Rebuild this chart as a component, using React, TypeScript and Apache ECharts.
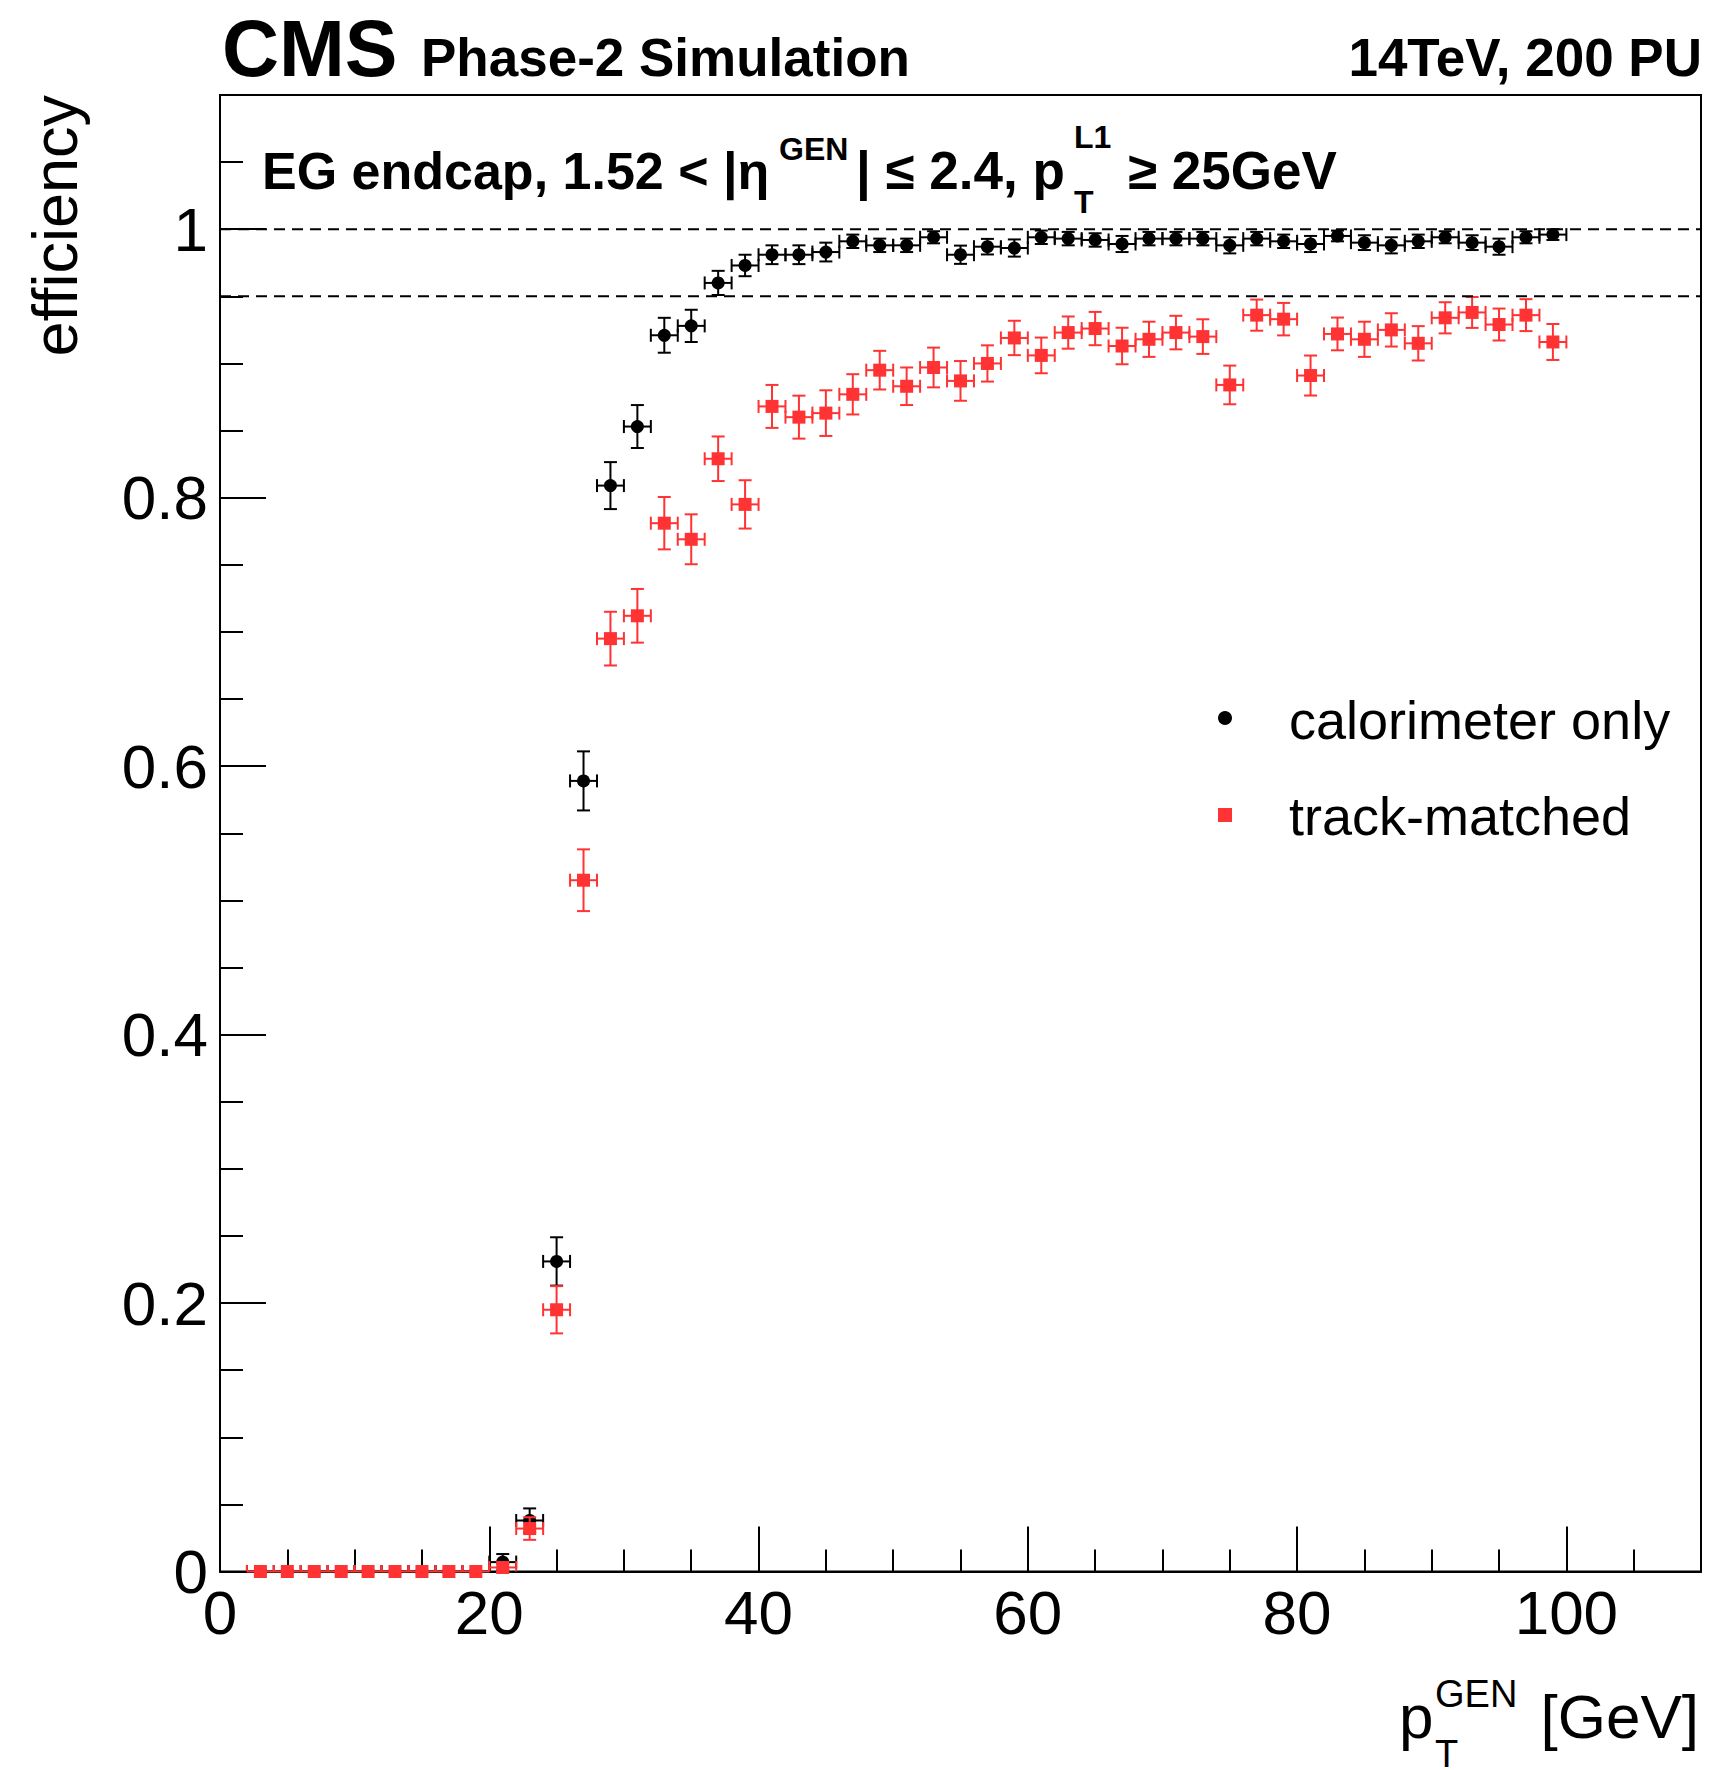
import React, { useEffect, useRef } from "react";
import * as echarts from "echarts";

// ---- data ----
const ptBins = [3, 5, 7, 9, 11, 13, 15, 17, 19, 21, 23, 25, 27, 29, 31, 33, 35, 37, 39, 41, 43, 45, 47, 49, 51, 53, 55, 57, 59, 61, 63, 65, 67, 69, 71, 73, 75, 77, 79, 81, 83, 85, 87, 89, 91, 93, 95, 97, 99];
const binHalfWidth = 1;

const caloEff = [0, 0, 0, 0, 0, 0, 0, 0, 0, 0.007, 0.038, 0.231, 0.589, 0.809, 0.853, 0.921, 0.928, 0.960, 0.973, 0.981, 0.981, 0.983, 0.991, 0.988, 0.988, 0.994, 0.981, 0.987, 0.986, 0.994, 0.993, 0.992, 0.989, 0.993, 0.993, 0.993, 0.988, 0.993, 0.991, 0.989, 0.995, 0.990, 0.988, 0.991, 0.994, 0.990, 0.987, 0.994, 0.996];
const caloErr = [0, 0, 0, 0, 0, 0, 0, 0, 0, 0.006, 0.009, 0.018, 0.022, 0.0175, 0.016, 0.013, 0.012, 0.009, 0.008, 0.007, 0.007, 0.007, 0.005, 0.005, 0.005, 0.0045, 0.0068, 0.0058, 0.0064, 0.005, 0.005, 0.005, 0.006, 0.005, 0.005, 0.005, 0.006, 0.005, 0.005, 0.006, 0.004, 0.0055, 0.006, 0.005, 0.0045, 0.0055, 0.006, 0.0045, 0.004];

const trkEff = [0, 0, 0, 0, 0, 0, 0, 0, 0, 0.003, 0.032, 0.195, 0.515, 0.695, 0.712, 0.781, 0.769, 0.829, 0.795, 0.868, 0.860, 0.863, 0.877, 0.895, 0.883, 0.897, 0.887, 0.900, 0.919, 0.906, 0.923, 0.926, 0.913, 0.918, 0.923, 0.920, 0.884, 0.936, 0.933, 0.891, 0.922, 0.918, 0.925, 0.915, 0.934, 0.938, 0.929, 0.936, 0.916];
const trkErr = [0, 0, 0, 0, 0, 0, 0, 0, 0, 0.003, 0.0084, 0.0176, 0.023, 0.020, 0.020, 0.0195, 0.0186, 0.0166, 0.018, 0.016, 0.016, 0.017, 0.015, 0.0144, 0.014, 0.0148, 0.0148, 0.0135, 0.0128, 0.0133, 0.012, 0.0124, 0.0136, 0.0131, 0.0125, 0.0129, 0.0144, 0.0116, 0.0121, 0.0149, 0.0122, 0.0131, 0.0124, 0.0128, 0.0116, 0.0115, 0.0119, 0.0119, 0.0134];

const thresholds = [1, 0.95];
const xLabelValues = [0, 20, 40, 60, 80, 100];
const yLabelValues = [0, 0.2, 0.4, 0.6, 0.8, 1];

const seriesNames = ["calorimeter only", "track-matched"];

const FONT = '"Liberation Sans", Arial, Helvetica, sans-serif';
const RED = "#ff3333";

function makeRender(color: string, marker: "circle" | "rect") {
  return (params: any, api: any) => {
    const x = api.value(0);
    const y = api.value(1);
    const e = api.value(2);
    const cs = params.coordSys;
    const bottom = cs.y + cs.height;
    const c = api.coord([x, y]);
    const l = api.coord([x - binHalfWidth, y]);
    const r = api.coord([x + binHalfWidth, y]);
    const cap = 6.5;
    const ls = { stroke: color, lineWidth: 2 };
    const clampY = (v: number) => Math.min(v, bottom);
    const children: any[] = [];
    children.push({ type: "line", shape: { x1: l[0], y1: c[1], x2: r[0], y2: c[1] }, style: ls });
    children.push({ type: "line", shape: { x1: l[0], y1: c[1] - cap, x2: l[0], y2: clampY(c[1] + cap) }, style: ls });
    children.push({ type: "line", shape: { x1: r[0], y1: c[1] - cap, x2: r[0], y2: clampY(c[1] + cap) }, style: ls });
    if (e > 0) {
      const hi = api.coord([x, y + e]);
      const lo = api.coord([x, y - e]);
      children.push({ type: "line", shape: { x1: c[0], y1: hi[1], x2: c[0], y2: clampY(lo[1]) }, style: ls });
      children.push({ type: "line", shape: { x1: c[0] - cap, y1: hi[1], x2: c[0] + cap, y2: hi[1] }, style: ls });
      if (lo[1] <= bottom) {
        children.push({ type: "line", shape: { x1: c[0] - cap, y1: lo[1], x2: c[0] + cap, y2: lo[1] }, style: ls });
      }
    }
    if (marker === "circle") {
      children.push({ type: "circle", shape: { cx: c[0], cy: c[1], r: 6.5 }, style: { fill: color } });
    } else {
      children.push({ type: "rect", shape: { x: c[0] - 6.5, y: c[1] - 6.5, width: 13, height: 13 }, style: { fill: color } });
    }
    return { type: "group", children };
  };
}

function txt(text: string, x: number, baseline: number, size: number, opts: any = {}) {
  return {
    type: "text",
    x,
    y: baseline - 0.35 * size,
    silent: true,
    style: {
      text,
      fill: "#000",
      fontFamily: FONT,
      fontSize: size,
      fontWeight: opts.bold ? "bold" : "normal",
      align: opts.align || "left",
      verticalAlign: "middle",
    },
  };
}

export default function App() {
  const ref = useRef<HTMLDivElement>(null);
  useEffect(() => {
    if (!ref.current) return;
    const chart = echarts.init(ref.current, null, { renderer: "svg" });
    const gridLeft = 220;
    const gridTop = 95;
    const gridW = 1481;
    const gridH = 1476.5;

    const baseAxisLabel = { fontFamily: FONT, fontSize: 62, color: "#000" };

    const option: any = {
      animation: false,
      backgroundColor: "#fff",
      grid: {
        left: gridLeft,
        top: gridTop,
        width: gridW,
        height: gridH,
        show: true,
        borderColor: "#000",
        borderWidth: 2,
        backgroundColor: "transparent",
      },
      xAxis: [
        {
          type: "value",
          min: 0,
          max: 110,
          interval: 20,
          position: "bottom",
          axisLine: { show: true, onZero: false, lineStyle: { color: "#000", width: 2 } },
          axisTick: { show: true, inside: true, length: 45, lineStyle: { color: "#000", width: 2 } },
          axisLabel: {
            ...baseAxisLabel,
            margin: 10,
            formatter: (v: number) => (xLabelValues.indexOf(Math.round(v)) >= 0 ? String(Math.round(v)) : ""),
          },
          splitLine: { show: false },
        },
        {
          type: "value",
          min: 0,
          max: 110,
          interval: 5,
          position: "bottom",
          axisLine: { show: false, onZero: false },
          axisTick: { show: true, inside: true, length: 22, lineStyle: { color: "#000", width: 2 } },
          axisLabel: { show: false },
          splitLine: { show: false },
        },
      ],
      yAxis: [
        {
          type: "value",
          min: 0,
          max: 1.1,
          interval: 0.2,
          position: "left",
          axisLine: { show: true, onZero: false, lineStyle: { color: "#000", width: 2 } },
          axisTick: { show: true, inside: true, length: 46, lineStyle: { color: "#000", width: 2 } },
          axisLabel: {
            ...baseAxisLabel,
            margin: 12,
            formatter: (v: number) => {
              const r = Math.round(v * 10) / 10;
              return yLabelValues.some((t) => Math.abs(t - v) < 1e-6) ? String(r) : "";
            },
          },
          splitLine: { show: false },
        },
        {
          type: "value",
          min: 0,
          max: 1.1,
          interval: 0.05,
          position: "left",
          axisLine: { show: false, onZero: false },
          axisTick: { show: true, inside: true, length: 23, lineStyle: { color: "#000", width: 2 } },
          axisLabel: { show: false },
          splitLine: { show: false },
        },
      ],
      series: [
        ...thresholds.map((t) => ({
          type: "line",
          xAxisIndex: 0,
          yAxisIndex: 0,
          data: [
            [0, t],
            [110, t],
          ],
          symbol: "none",
          silent: true,
          lineStyle: { color: "#000", width: 2, type: [11, 7] },
        })),
        {
          name: seriesNames[0],
          type: "custom",
          xAxisIndex: 0,
          yAxisIndex: 0,
          renderItem: makeRender("#000", "circle"),
          data: ptBins.map((x, i) => [x, caloEff[i], caloErr[i]]),
          encode: { x: 0, y: 1 },
          silent: true,
        },
        {
          name: seriesNames[1],
          type: "custom",
          xAxisIndex: 0,
          yAxisIndex: 0,
          renderItem: makeRender(RED, "rect"),
          data: ptBins.map((x, i) => [x, trkEff[i], trkErr[i]]),
          encode: { x: 0, y: 1 },
          silent: true,
        },
      ],
      graphic: [
        txt("CMS", 222, 76, 79, { bold: true }),
        txt("Phase-2 Simulation", 421, 76, 53, { bold: true }),
        txt("14TeV, 200 PU", 1702, 76, 53, { bold: true, align: "right" }),
        // annotation
        txt("EG endcap, 1.52 < |η", 262, 189, 52, { bold: true }),
        txt("GEN", 779, 160, 32, { bold: true }),
        txt("| ≤ 2.4, p", 856, 189, 53, { bold: true }),
        txt("L1", 1074, 148, 32, { bold: true }),
        txt("T", 1074, 213, 32, { bold: true }),
        txt("≥ 25GeV", 1128, 189, 53, { bold: true }),
        // axis titles
        {
          type: "text",
          x: 55,
          y: 95,
          rotation: Math.PI / 2,
          silent: true,
          style: {
            text: "efficiency",
            fill: "#000",
            fontFamily: FONT,
            fontSize: 63,
            align: "right",
            verticalAlign: "middle",
          },
        },
        txt("p", 1399, 1738, 62),
        txt("GEN", 1435, 1707, 38),
        txt("T", 1435, 1767, 38),
        txt("[GeV]", 1699, 1738, 62, { align: "right" }),
        // legend
        { type: "circle", silent: true, shape: { cx: 1225, cy: 718, r: 7 }, style: { fill: "#000" } },
        { type: "rect", silent: true, shape: { x: 1218, y: 808, width: 14, height: 14 }, style: { fill: RED } },
        txt(seriesNames[0], 1289, 739, 54),
        txt(seriesNames[1], 1289, 835, 54),
      ],
    };
    chart.setOption(option);
    return () => chart.dispose();
  }, []);
  return (
    <div
      ref={ref}
      style={{ position: "absolute", left: 0, top: 0, width: 1716, height: 1770, background: "#fff" }}
    />
  );
}
